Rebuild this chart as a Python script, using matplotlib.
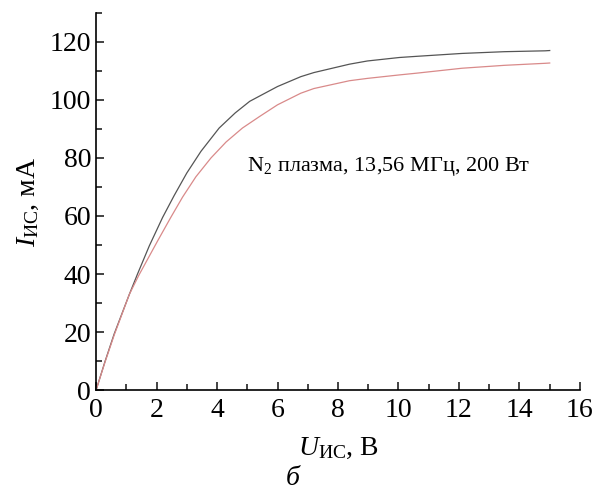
import matplotlib
matplotlib.use("Agg")
import matplotlib.pyplot as plt
from matplotlib.ticker import MultipleLocator

plt.rcParams['font.family'] = ['Liberation Serif', 'DejaVu Serif']
plt.rcParams['mathtext.fontset'] = 'custom'
plt.rcParams['mathtext.rm'] = 'Liberation Serif'
plt.rcParams['mathtext.it'] = 'Liberation Serif:italic'

u_black = [0, 0.3, 0.6, 1.1, 1.37, 1.76, 2.2, 2.58, 3.0, 3.47, 4.07, 4.6, 5.08, 5.44, 6.0, 6.77,
           7.2, 8.38, 8.97, 10.03, 10.6, 12.1, 13.5, 14.85, 15.0]
i_black = [0, 10, 19.4, 33, 40, 49.7, 59.5, 67.0, 74.8, 82.3, 90.3, 95.5, 99.5, 101.5, 104.6, 108,
           109.4, 112.3, 113.4, 114.6, 115.0, 116.0, 116.6, 116.9, 117.0]
u_red = [0, 0.3, 0.6, 1.1, 1.41, 2.04, 2.47, 2.86, 3.3, 3.8, 4.3, 4.84, 5.41, 6.0, 6.77,
         7.2, 8.38, 8.97, 10.03, 10.6, 12.1, 13.5, 14.85, 15.0]
i_red = [0, 9.8, 19, 33, 39.5, 51.5, 59.5, 66.5, 73.5, 80, 85.5, 90.3, 94.3, 98.3, 102.3,
         103.9, 106.6, 107.4, 108.6, 109.2, 110.9, 111.9, 112.6, 112.7]

xticks = [0, 2, 4, 6, 8, 10, 12, 14, 16]
yticks = [0, 20, 40, 60, 80, 100, 120]

fig = plt.figure(figsize=(5.93, 4.92), dpi=100)
ax = fig.add_axes([0.162, 0.207, 0.816, 0.767])

ax.plot(u_black, i_black, color='#555555', lw=0.9)
ax.plot(u_red, i_red, color='#d98a8a', lw=0.9)

ax.set_xlim(0, 16)
ax.set_ylim(0, 130)
ax.set_xticks(xticks)
ax.set_yticks(yticks)
ax.xaxis.set_minor_locator(MultipleLocator(1))
ax.yaxis.set_minor_locator(MultipleLocator(10))
ax.tick_params(which='both', direction='in', labelsize=20, width=1.2, color='#222222')
ax.tick_params(which='major', length=6)
ax.tick_params(which='minor', length=4)
ax.tick_params(axis='x', pad=6)
ax.spines['top'].set_visible(False)
ax.spines['right'].set_visible(False)
for s in ['left', 'bottom']:
    ax.spines[s].set_linewidth(1.2)

ax.set_xlabel(r'$\mathit{U}_{\mathrm{ИС}}$, В', fontsize=20, labelpad=9)
ax.set_ylabel(r'$\mathit{I}_{\mathrm{ИС}}$, мА', fontsize=20, labelpad=6)

ax.text(0.312, 0.594, r'N$_2$ плазма, 13,56 МГц, 200 Вт', transform=ax.transAxes,
        fontsize=16, va='center', ha='left')

fig.text(0.494, 0.028, 'б', fontsize=20, style='italic', ha='center', va='center')

fig.savefig('out.png', dpi=100)
